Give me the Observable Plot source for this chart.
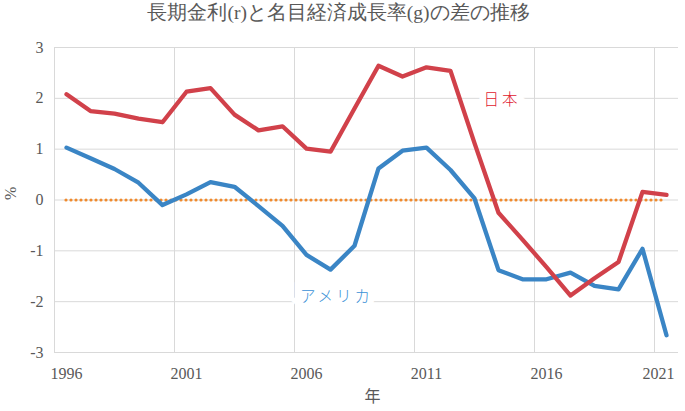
<!DOCTYPE html>
<html>
<head>
<meta charset="utf-8">
<script src="https://cdn.jsdelivr.net/npm/d3@7"></script>
<script src="https://cdn.jsdelivr.net/npm/@observablehq/plot@0.6"></script>
<style>
  body { margin: 0; background: #fff; width: 685px; height: 411px; overflow: hidden; }
  #title { height: 28px; line-height: 26px; text-align: center; font-family: 'Liberation Serif', 'DejaVu Serif', serif; font-size: 19.5px; color: #595959; padding-right: 8px; }
  #chart svg text { font-family: 'Liberation Serif', 'DejaVu Serif', serif; }
  #chart svg .cjk text { font-family: 'Noto Sans CJK JP', sans-serif; }
  #chart svg .lbl text { font-family: 'Noto Sans CJK JP', sans-serif; letter-spacing: 3px; font-weight: 300; }
</style>
</head>
<body>
<div id="title">長期金利(r)と名目経済成長率(g)の差の推移</div>
<div id="chart"></div>
<script>
const years = d3.range(1996, 2022);
const japan = [2.08,1.75,1.70,1.60,1.53,2.13,2.20,1.68,1.37,1.45,1.01,0.95,1.80,2.64,2.43,2.61,2.54,1.12,-0.25,-0.78,-1.32,-1.88,-1.54,-1.22,0.16,0.10];
const usa = [1.03,0.82,0.61,0.34,-0.10,0.11,0.35,0.26,-0.12,-0.51,-1.08,-1.37,-0.90,0.62,0.97,1.03,0.59,0.03,-1.38,-1.56,-1.56,-1.43,-1.69,-1.76,-0.96,-2.66];
const xTickLabels = [1996, 2001, 2006, 2011, 2016];
const xLastLabel = [2021];
const yTicks = [-3, -2, -1, 0, 1, 2, 3];
const xGrid = [1995.5, 2000.5, 2005.5, 2010.5, 2015.5, 2020.5];
const seriesNames = ["日本", "アメリカ"];
const labelYears = [2014.15, 2007.25];
const labelValues = [1.97, -1.9];

const jp = years.map((y, i) => ({year: y, v: japan[i]}));
const us = years.map((y, i) => ({year: y, v: usa[i]}));
const labels = seriesNames.map((n, i) => ({name: n, x: labelYears[i], y: labelValues[i]}));

const serif = "Liberation Serif";
const red = "#D1414A", blue = "#3A85C5";
const fmt = d => String(d);

const chart = Plot.plot({
  width: 685,
  height: 383,
  marginLeft: 54,
  marginRight: 7,
  marginTop: 19,
  marginBottom: 59,
  style: {fontSize: "15px", color: "#595959", background: "#fff"},
  x: {domain: [1995.5, 2021.5]},
  y: {domain: [-3, 3]},
  marks: [
    Plot.ruleY(yTicks, {stroke: "#d9d9d9", strokeWidth: 1}),
    Plot.ruleX(xGrid, {stroke: "#d9d9d9", strokeWidth: 1}),
    Plot.axisY({ticks: yTicks, tickSize: 0, tickPadding: 11, label: null, tickFormat: fmt, fill: "#595959", fontFamily: serif, fontSize: 16}),
    Plot.axisX({ticks: xTickLabels, tickSize: 0, tickPadding: 15, label: null, tickFormat: fmt, fill: "#595959", fontFamily: serif, fontSize: 16}),
    Plot.axisX({ticks: xLastLabel, tickSize: 0, tickPadding: 15, label: null, tickFormat: fmt, dx: -8, fill: "#595959", fontFamily: serif, fontSize: 16}),
    Plot.text(["%"], {frameAnchor: "left", dx: -44, rotate: -90, fontSize: 16, fill: "#595959", fontFamily: serif}),
    Plot.text(["年"], {frameAnchor: "bottom", dx: 6, dy: 49, fontSize: 16, fill: "#595959", className: "cjk"}),
    Plot.text(labels, {x: "x", y: "y", text: "name", fill: (d, i) => i === 0 ? "#E0202F" : "#3A90D6", fontSize: 15.5, className: "lbl", stroke: "white", strokeWidth: 14, paintOrder: "stroke", strokeLinejoin: "miter"}),
    Plot.ruleY([0], {x1: years[0], x2: years[years.length - 1], stroke: "#F08A2C", strokeWidth: 3.2, strokeDasharray: "0 5", strokeLinecap: "round"}),
    Plot.line(us, {x: "year", y: "v", stroke: blue, strokeWidth: 4.3, strokeLinejoin: "round"}),
    Plot.line(jp, {x: "year", y: "v", stroke: red, strokeWidth: 4.3, strokeLinejoin: "round"})
  ]
});
document.getElementById("chart").appendChild(chart);
</script>
</body>
</html>
